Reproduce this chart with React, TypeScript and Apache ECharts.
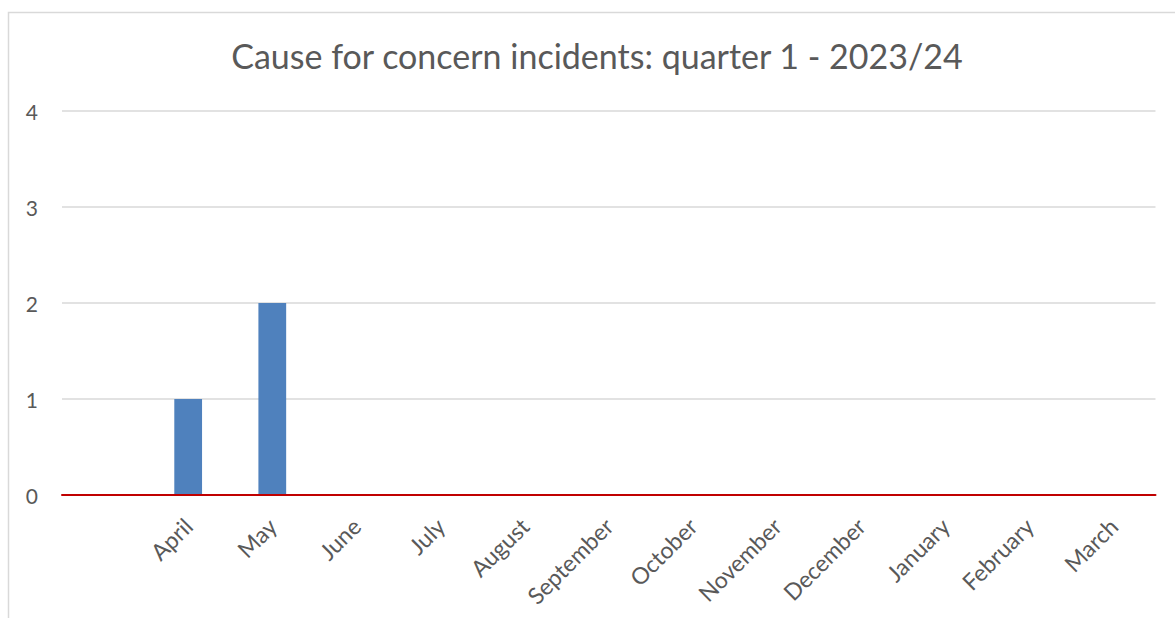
import React, { useEffect, useRef } from "react";
import * as echarts from "echarts";

const TITLE = "Cause for concern incidents: quarter 1 - 2023/24";
const categories = ["", "April", "May", "June", "July", "August", "September", "October", "November", "December", "January", "February", "March"];
const incidents = [null, 1, 2, 0, 0, 0, 0, 0, 0, 0, 0, 0, 0];
const yTicks = { min: 0, max: 4, interval: 1 };

const FONT = "Lato, 'Open Sans', sans-serif";

export default function App() {
  const ref = useRef<HTMLDivElement>(null);
  useEffect(() => {
    if (!ref.current) return;
    const chart = echarts.init(ref.current, null, { renderer: "svg" });
    chart.setOption({
      animation: false,
      backgroundColor: "#ffffff",
      textStyle: { fontFamily: FONT },
      title: {
        text: TITLE,
        left: 592,
        textAlign: "center",
        top: 33,
        textStyle: { color: "#595959", fontSize: 34, fontWeight: "normal", fontFamily: FONT },
      },
      graphic: [
        {
          type: "rect",
          shape: { x: 8.5, y: 12.5, width: 1300, height: 800 },
          style: { fill: "none", stroke: "#d9d9d9", lineWidth: 1.5 },
          silent: true,
          z: -1,
        },
      ],
      grid: { left: 62, right: 19.5, top: 111, bottom: 123, containLabel: false },
      xAxis: {
        type: "category",
        data: categories,
        z: 5,
        axisLine: { show: true, lineStyle: { color: "#c00000", width: 2 } },
        axisTick: { show: false },
        axisLabel: {
          rotate: 45,
          interval: 0,
          color: "#595959",
          fontSize: 23,
          margin: 27,
          fontFamily: FONT,
        },
      },
      yAxis: {
        type: "value",
        min: yTicks.min,
        max: yTicks.max,
        interval: yTicks.interval,
        axisLine: { show: false },
        axisTick: { show: false },
        splitLine: { lineStyle: { color: "#d9d9d9", width: 1.5 } },
        axisLabel: { color: "#595959", fontSize: 21, margin: 24, fontFamily: FONT },
      },
      series: [
        {
          type: "bar",
          data: incidents,
          barWidth: "33%",
          itemStyle: { color: "#4f81bd" },
        },
      ],
    });
    return () => chart.dispose();
  }, []);
  return <div ref={ref} style={{ position: "fixed", left: 0, top: 0, width: 1175, height: 618 }} />;
}
